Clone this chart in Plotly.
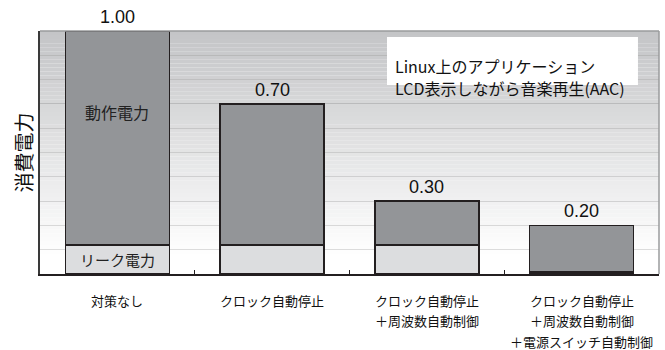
import plotly.graph_objects as go

categories = ["対策なし", "クロック自動停止", "クロック自動停止\n＋周波数自動制御",
              "クロック自動停止\n＋周波数自動制御\n＋電源スイッチ自動制御"]
total_power = [1.00, 0.70, 0.30, 0.20]
leak_power = [0.12, 0.12, 0.12, 0.008]
value_labels = ["1.00", "0.70", "0.30", "0.20"]
active_power = [round(t - l, 4) for t, l in zip(total_power, leak_power)]
leak_colors = ["#dcdddf", "#dcdddf", "#dcdddf", "#231f20"]

cat_keys = [c.replace("\n", " ") for c in categories]
CJK = "Noto Sans CJK JP"
NUM = "Liberation Sans"
DARK = "#231f20"

fig = go.Figure()
fig.add_trace(go.Bar(x=cat_keys, y=leak_power, name="リーク電力",
                     marker=dict(color=leak_colors, line=dict(color=DARK, width=1.5)),
                     hoverinfo="skip"))
fig.add_trace(go.Bar(x=cat_keys, y=active_power, name="動作電力",
                     marker=dict(color="#939598", line=dict(color=DARK, width=1.5)),
                     hoverinfo="skip"))

shapes = []
# gradient background
N = 60
top = (0xc3, 0xc4, 0xc6)
for i in range(N):
    y0 = i / N
    y1 = (i + 1) / N
    t = max(0.0, ((y0 + y1) / 2 - 0.08) / 0.92)
    col = tuple(round(255 + (c - 255) * t) for c in top)
    shapes.append(dict(type="rect", xref="x domain", yref="y domain", x0=0, x1=1,
                       y0=y0, y1=y1, fillcolor="rgb(%d,%d,%d)" % col,
                       line=dict(width=0), layer="below"))
# top and right border
shapes.append(dict(type="line", xref="x domain", yref="y domain", x0=0, x1=1, y0=1, y1=1,
                   line=dict(color="#9a9b9d", width=1.5)))
shapes.append(dict(type="line", xref="x domain", yref="y domain", x0=1, x1=1, y0=0, y1=1,
                   line=dict(color="#9a9b9d", width=1.5)))
# note box
shapes.append(dict(type="rect", xref="paper", yref="paper", x0=0.5606, x1=0.966,
                   y0=0.778, y1=0.975, fillcolor="white", line=dict(width=0), layer="above"))

annotations = []
for k, tot, lab in zip(cat_keys, total_power, value_labels):
    annotations.append(dict(x=k, y=tot, xref="x", yref="y", text=lab, showarrow=False,
                            yanchor="middle", yshift=14,
                            font=dict(family=NUM, size=18, color="#111")))
for k, c in zip(cat_keys, categories):
    for j, line in enumerate(c.split("\n")):
        annotations.append(dict(x=k, y=0, xref="x", yref="paper", text=line, showarrow=False,
                                yanchor="middle", yshift=-(26 + 20.5 * j),
                                font=dict(family=CJK, size=13, color="#111")))
annotations.append(dict(x=cat_keys[0], y=leak_power[0] + active_power[0] * 0.62, xref="x", yref="y",
                        text="動作電力", showarrow=False,
                        font=dict(family=CJK, size=16, color="#222")))
annotations.append(dict(x=cat_keys[0], y=leak_power[0] / 2, xref="x", yref="y",
                        text="リーク電力", showarrow=False,
                        font=dict(family=CJK, size=15, color="#222")))
annotations.append(dict(x=-17 / 619, y=0.5, xref="paper", yref="paper", text="消費電力",
                        showarrow=False, textangle=-90, xanchor="center",
                        font=dict(family=CJK, size=20, color="#111")))
annotations.append(dict(x=0.570, y=0.9136, xref="paper", yref="paper", xanchor="left",
                        text="Linux上のアプリケーション", showarrow=False,
                        font=dict(family=CJK, size=16, color="#111")))
annotations.append(dict(x=0.570, y=0.823, xref="paper", yref="paper", xanchor="left",
                        text="LCD表示しながら音楽再生(AAC)", showarrow=False,
                        font=dict(family=CJK, size=16, color="#111")))

fig.update_layout(
    width=665, height=350,
    margin=dict(l=40, r=6, t=31, b=76),
    barmode="stack", bargap=0.328,
    showlegend=False,
    paper_bgcolor="white", plot_bgcolor="white",
    shapes=shapes, annotations=annotations,
)
fig.update_xaxes(showticklabels=False, tickson="boundaries", ticks="inside", ticklen=4,
                 tickcolor=DARK, tickwidth=1, showline=True, linecolor=DARK, linewidth=1.5,
                 showgrid=False, fixedrange=True)
fig.update_yaxes(range=[0, 1.0], dtick=0.1, showticklabels=False, ticks="",
                 showgrid=True, gridcolor="rgba(0,0,0,0.13)", gridwidth=1,
                 showline=True, linecolor="#3a3a3a", linewidth=1.5, zeroline=False,
                 fixedrange=True)

fig.write_html("out.html")
